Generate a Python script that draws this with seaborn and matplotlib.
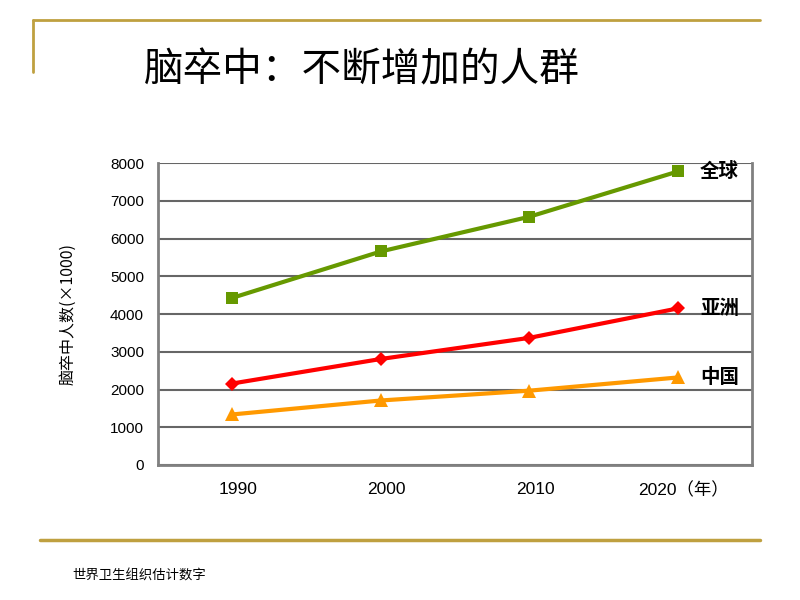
import numpy as np
import pandas as pd
import matplotlib
matplotlib.use("Agg")
import matplotlib.pyplot as plt
import matplotlib.transforms as mtransforms
import seaborn as sns

# data
years = ["1990", "2000", "2010", "2020（年）"]
global_vals = [4430, 5660, 6580, 7780]
asia_vals = [2160, 2810, 3370, 4150]
china_vals = [1340, 1710, 1970, 2320]
regions = ["全球", "亚洲", "中国"]
colors = ["#669900", "#FF0000", "#FF9900"]
markers = ["s", "D", "^"]
yticks = [0, 1000, 2000, 3000, 4000, 5000, 6000, 7000, 8000]

sns.set_theme(style="white")
plt.rcParams['font.family'] = ['Noto Sans CJK SC', 'DejaVu Sans']

df = pd.DataFrame({
    "year": years * 3,
    "value": global_vals + asia_vals + china_vals,
    "region": [r for r in regions for _ in years],
})

fig = plt.figure(figsize=(8, 6), dpi=100)
ax = fig.add_axes([0.1975, 0.225, 0.7425, 0.503])

sns.lineplot(data=df, x="year", y="value", hue="region", style="region",
             palette=dict(zip(regions, colors)), markers=dict(zip(regions, markers)),
             dashes=False, linewidth=3, markersize=9, markeredgewidth=0,
             legend=False, ax=ax, sort=False)
# marker sizes differ a bit per series in the original
for line, ms in zip(ax.lines, [8.5, 7.5, 10.5]):
    line.set_markersize(ms)

ax.set_xlim(-0.5, 3.5)
ax.set_ylim(0, 8000)
ax.set_yticks(yticks)
ax.yaxis.grid(True, color="#666666", linewidth=1.5)
ax.set_axisbelow(True)
for s in ax.spines.values():
    s.set_color("#808080")
    s.set_linewidth(2)
ax.spines["top"].set_visible(False)

ax.set_xticks(range(len(years)))
ax.set_xticklabels(years, family=["Liberation Sans", "Noto Sans CJK SC"], fontsize=12.5)
ax.set_xticks([0.5, 1.5, 2.5], minor=True)
ax.tick_params(axis="x", which="major", length=0, pad=12, colors="black")
ax.tick_params(axis="x", which="minor", length=4, width=1, color="#808080", direction="out")
ax.tick_params(axis="y", length=0, pad=10, labelsize=11, colors="black")
for lab in ax.get_yticklabels():
    lab.set_family(["Liberation Sans"])
# x labels sit a little right of the points in the original
shift = mtransforms.ScaledTranslation(6 / 100, 0, fig.dpi_scale_trans)
for lab in ax.get_xticklabels():
    lab.set_transform(lab.get_transform() + shift)
ax.set_xlabel("")
ax.set_ylabel("脑卒中人数(×1000)", fontsize=11.5, labelpad=24, color="black")

# series labels at right end
last = [global_vals[-1], asia_vals[-1], china_vals[-1]]
for r, v in zip(regions, last):
    ax.text(3.15, v, r, fontsize=14, fontweight="bold", ha="left", va="center",
            color="black")

# title and decorative lines
fig.text(0.18, 0.882, "脑卒中：不断增加的人群", fontsize=28.5, ha="left", va="center",
         color="black")
fig.add_artist(plt.Line2D([0.041, 0.95], [0.967, 0.967], color="#BFA040", linewidth=2))
fig.add_artist(plt.Line2D([0.041, 0.041], [0.967, 0.88], color="#BFA040", linewidth=2))
fig.add_artist(plt.Line2D([0.05, 0.95], [0.1, 0.1], color="#BFA040", linewidth=2.5))
fig.text(0.09, 0.04, "世界卫生组织估计数字", fontsize=9.6, ha="left", va="center",
         color="black")

fig.savefig("out.png", dpi=100)
